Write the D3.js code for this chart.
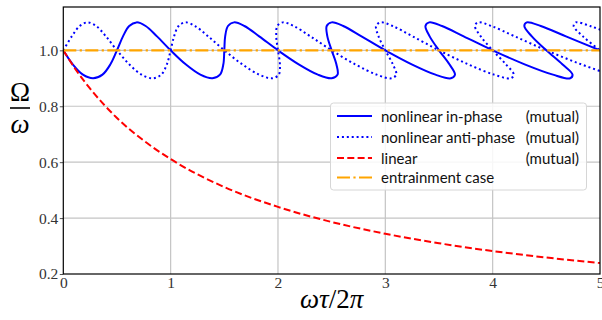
<!DOCTYPE html>
<html>
<head>
<meta charset="utf-8">
<script src="https://cdn.jsdelivr.net/npm/d3@7"></script>
<style>
  body { margin: 0; background: #fff; }
  svg { display: block; }
</style>
</head>
<body>
<div id="chart-container"></div>
<script>
// values
const xTicks = [0, 1, 2, 3, 4, 5];
const yTicks = [0.2, 0.4, 0.6, 0.8, 1.0];

// nonlinear in-phase (mutual) : [wt/2pi, Omega/w]
const inPhase = [
  [0.000, 1.000], [0.088, 0.950], [0.183, 0.913], [0.278, 0.900], [0.365, 0.913], [0.439, 0.950],
  [0.500, 1.000], [0.556, 1.050], [0.614, 1.087], [0.682, 1.100], [0.767, 1.087], [0.873, 1.050],
  [1.000, 1.000], [1.140, 0.950], [1.277, 0.913], [1.389, 0.900], [1.460, 0.913], [1.491, 0.950],
  [1.500, 1.000], [1.508, 1.050], [1.534, 1.087], [1.591, 1.100], [1.687, 1.087], [1.825, 1.050],
  [2.000, 1.000], [2.193, 0.950], [2.372, 0.913], [2.500, 0.900], [2.555, 0.913], [2.544, 0.950],
  [2.500, 1.000], [2.460, 1.050], [2.454, 1.087], [2.500, 1.100], [2.608, 1.087], [2.778, 1.050],
  [3.000, 1.000], [3.246, 0.950], [3.467, 0.913], [3.611, 0.900], [3.649, 0.913], [3.597, 0.950],
  [3.500, 1.000], [3.413, 1.050], [3.374, 1.087], [3.409, 1.100], [3.528, 1.087], [3.730, 1.050],
  [4.000, 1.000], [4.298, 0.950], [4.562, 0.913], [4.722, 0.900], [4.744, 0.913], [4.649, 0.950],
  [4.500, 1.000], [4.365, 1.050], [4.295, 1.087], [4.318, 1.100], [4.448, 1.087], [4.683, 1.050],
  [5.000, 1.000]
];

// nonlinear anti-phase (mutual)
const antiPhase = [
  [0.000, 1.000], [0.079, 1.050], [0.153, 1.087], [0.227, 1.100], [0.307, 1.087], [0.397, 1.050],
  [0.500, 1.000], [0.614, 0.950], [0.730, 0.913], [0.833, 0.900], [0.912, 0.913], [0.965, 0.950],
  [1.000, 1.000], [1.032, 1.050], [1.074, 1.087], [1.136, 1.100], [1.227, 1.087], [1.349, 1.050],
  [1.500, 1.000], [1.667, 0.950], [1.825, 0.913], [1.944, 0.900], [2.007, 0.913], [2.018, 0.950],
  [2.000, 1.000], [1.984, 1.050], [1.994, 1.087], [2.046, 1.100], [2.147, 1.087], [2.302, 1.050],
  [2.500, 1.000], [2.719, 0.950], [2.920, 0.913], [3.056, 0.900], [3.102, 0.913], [3.070, 0.950],
  [3.000, 1.000], [2.937, 1.050], [2.914, 1.087], [2.955, 1.100], [3.068, 1.087], [3.254, 1.050],
  [3.500, 1.000], [3.772, 0.950], [4.014, 0.913], [4.167, 0.900], [4.197, 0.913], [4.123, 0.950],
  [4.000, 1.000], [3.889, 1.050], [3.835, 1.087], [3.864, 1.100], [3.988, 1.087], [4.206, 1.050],
  [4.500, 1.000], [4.825, 0.950], [5.109, 0.913], [5.278, 0.900], [5.292, 0.913], [5.175, 0.950],
  [5.000, 1.000], [4.841, 1.050], [4.755, 1.087], [4.773, 1.100], [4.908, 1.087], [5.159, 1.050],
  [5.500, 1.000]
];

// linear (mutual)
const linear = [
  [0.000, 1.000], [0.125, 0.926], [0.250, 0.863], [0.500, 0.758], [0.750, 0.677], [1.000, 0.611],
  [1.500, 0.511], [2.000, 0.440], [2.500, 0.386], [3.000, 0.344], [3.500, 0.310], [4.000, 0.282],
  [4.500, 0.259], [5.000, 0.239]
];

// entrainment case
const entrainment = [[0, 1.0], [5, 1.0]];

const legendNames = ["nonlinear in-phase", "nonlinear anti-phase", "linear", "entrainment case"];
const legendTags = ["(mutual)", "(mutual)", "(mutual)", ""];

//----------------------------------------------------------------------------------------------------

const W = 602, H = 320;
const margin = { top: 7, right: 2, bottom: 46, left: 63.3 };
const width = W - margin.left - margin.right;
const height = H - margin.top - margin.bottom;

const svg = d3.select("#chart-container")
  .append("svg")
  .attr("width", W)
  .attr("height", H);

const g = svg.append("g")
  .attr("transform", "translate(" + margin.left + "," + margin.top + ")");

const x = d3.scaleLinear().domain([0, 5]).range([0, width]);
const y = d3.scaleLinear().domain([0.2, 1.155]).range([height, 0]);

const serif = "'Liberation Serif', 'DejaVu Serif', serif";

// grid
g.append("g")
  .selectAll("line")
  .data(xTicks.slice(1, -1))
  .join("line")
  .attr("x1", d => x(d)).attr("x2", d => x(d))
  .attr("y1", 0).attr("y2", height)
  .attr("stroke", "#c4c4c4").attr("stroke-width", 1.2);

g.append("g")
  .selectAll("line")
  .data(yTicks.slice(1))
  .join("line")
  .attr("x1", 0).attr("x2", width)
  .attr("y1", d => y(d)).attr("y2", d => y(d))
  .attr("stroke", "#c4c4c4").attr("stroke-width", 1.2);

// axes
const yAxis = g.append("g")
  .call(d3.axisLeft(y).tickValues(yTicks).tickSize(3.5).tickPadding(1.5).tickFormat(d3.format(".1f")));
yAxis.select(".domain").remove();
yAxis.selectAll(".tick line").attr("stroke", "#555");
yAxis.selectAll(".tick text")
  .attr("fill", "#333")
  .style("font-family", serif)
  .style("font-size", "15.5px");

const xAxis = g.append("g")
  .attr("transform", "translate(0," + height + ")")
  .call(d3.axisBottom(x).tickValues(xTicks).tickSize(0).tickPadding(3).tickFormat(d3.format("d")));
xAxis.select(".domain").remove();
xAxis.selectAll(".tick text")
  .attr("fill", "#333")
  .style("font-family", serif)
  .style("font-size", "15.5px");

// curves
g.append("clipPath").attr("id", "plot-clip")
  .append("rect").attr("width", width).attr("height", height);

const plot = g.append("g").attr("clip-path", "url(#plot-clip)");

const paramLine = d3.line()
  .x(d => x(d[0])).y(d => y(d[1]))
  .curve(d3.curveCatmullRom.alpha(0.5));

const smoothLine = d3.line()
  .x(d => x(d[0])).y(d => y(d[1]))
  .curve(d3.curveMonotoneX);

const styles = [
  { color: "#0000ff", width: 2, dash: null },
  { color: "#0000ff", width: 2, dash: "2,2.9" },
  { color: "#ff0000", width: 2, dash: "7,3.3" },
  { color: "#ffa500", width: 2.2, dash: "13,3.4,2.2,3.4" }
];

[[inPhase, paramLine], [antiPhase, paramLine], [linear, smoothLine], [entrainment, smoothLine]]
  .forEach(([data, gen], i) => {
    plot.append("path")
      .datum(data)
      .attr("d", gen)
      .attr("fill", "none")
      .attr("stroke", styles[i].color)
      .attr("stroke-width", styles[i].width)
      .attr("stroke-dasharray", styles[i].dash)
      .attr("stroke-linejoin", "round");
  });

// frame
g.append("rect")
  .attr("width", width).attr("height", height)
  .attr("fill", "none").attr("stroke", "#000").attr("stroke-width", 1.2);

// axis labels
const xl = svg.append("text")
  .attr("x", margin.left + width / 2)
  .attr("y", 308)
  .attr("text-anchor", "middle")
  .style("font-family", serif)
  .style("font-size", "27px");
xl.append("tspan").style("font-style", "italic").text("ωτ");
xl.append("tspan").text("/2");
xl.append("tspan").style("font-style", "italic").text("π");

const yl = svg.append("g").attr("transform", "translate(20,108)");
yl.append("text").attr("y", -7).attr("text-anchor", "middle")
  .style("font-family", serif).style("font-size", "27px").text("Ω");
yl.append("line").attr("x1", -10).attr("x2", 10)
  .attr("stroke", "#000").attr("stroke-width", 1.6);
yl.append("text").attr("y", 25).attr("text-anchor", "middle")
  .style("font-family", serif).style("font-style", "italic").style("font-size", "27px").text("ω");

// legend
const legend = svg.append("g");
legend.append("rect")
  .attr("x", 330.5).attr("y", 103)
  .attr("width", 256).attr("height", 87)
  .attr("rx", 3)
  .attr("fill", "#fff").attr("fill-opacity", 0.85)
  .attr("stroke", "#d6d6d6").attr("stroke-width", 1);

const rowY = [116, 137, 158, 177.5];
legendNames.forEach((name, i) => {
  legend.append("line")
    .attr("x1", 337).attr("x2", 372)
    .attr("y1", rowY[i]).attr("y2", rowY[i])
    .attr("stroke", styles[i].color)
    .attr("stroke-width", styles[i].width)
    .attr("stroke-dasharray", styles[i].dash);
  legend.append("text")
    .attr("x", 381).attr("y", rowY[i] + 5.5)
    .style("font-family", "Lato, 'Open Sans', sans-serif")
    .style("font-size", "15px")
    .attr("fill", "#111")
    .text(name);
  if (legendTags[i]) {
    legend.append("text")
      .attr("x", 579).attr("y", rowY[i] + 5.5)
      .attr("text-anchor", "end")
      .style("font-family", "Lato, 'Open Sans', sans-serif")
      .style("font-size", "15px")
      .attr("fill", "#111")
      .text(legendTags[i]);
  }
});
</script>
</body>
</html>
